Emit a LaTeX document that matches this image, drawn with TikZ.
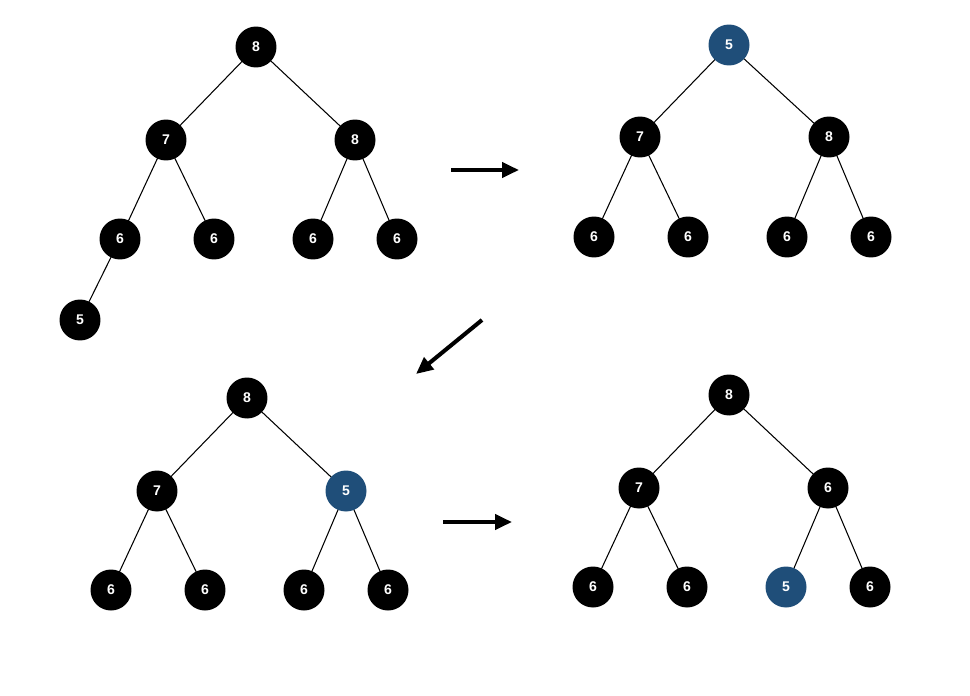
\documentclass[tikz,border=0pt]{standalone}
\usepackage{fontspec}
\setmainfont{Liberation Sans}
\usetikzlibrary{arrows.meta,backgrounds}
\definecolor{moved}{HTML}{1F4E79}
\tikzset{
  heapnode/.style={circle,fill=black,text=white,minimum size=0.82cm,inner sep=0pt,
    font=\fontsize{8}{9}\selectfont\bfseries},
  movednode/.style={heapnode,fill=moved},
  edge/.style={line width=0.6pt},
  stage/.style={line width=2.3pt,-{Triangle[length=0.34cm,width=0.3cm]}}
}
\begin{document}
\begin{tikzpicture}[x=0.02cm,y=-0.02cm]
  \useasboundingbox (0,0) rectangle (970,696);
  % Tree 1: 5 inserted at the bottom
  \node[heapnode] (a1) at (256,47) {8};
  \node[heapnode] (a2) at (166,140) {7};
  \node[heapnode] (a3) at (355,140) {8};
  \node[heapnode] (a4) at (120,239) {6};
  \node[heapnode] (a5) at (214,239) {6};
  \node[heapnode] (a6) at (313,239) {6};
  \node[heapnode] (a7) at (397,239) {6};
  \node[heapnode] (a8) at (80,320) {5};
  % Tree 2: last node moved to the root
  \node[movednode] (b1) at (729,45) {5};
  \node[heapnode] (b2) at (640,137) {7};
  \node[heapnode] (b3) at (829,137) {8};
  \node[heapnode] (b4) at (594,237) {6};
  \node[heapnode] (b5) at (688,237) {6};
  \node[heapnode] (b6) at (787,237) {6};
  \node[heapnode] (b7) at (871,237) {6};
  % Tree 3: first swap
  \node[heapnode] (c1) at (247,398) {8};
  \node[heapnode] (c2) at (157,491) {7};
  \node[movednode] (c3) at (346,491) {5};
  \node[heapnode] (c4) at (111,590) {6};
  \node[heapnode] (c5) at (205,590) {6};
  \node[heapnode] (c6) at (304,590) {6};
  \node[heapnode] (c7) at (388,590) {6};
  % Tree 4: second swap
  \node[heapnode] (d1) at (729,395) {8};
  \node[heapnode] (d2) at (639,488) {7};
  \node[heapnode] (d3) at (828,488) {6};
  \node[heapnode] (d4) at (593,587) {6};
  \node[heapnode] (d5) at (687,587) {6};
  \node[movednode] (d6) at (786,587) {5};
  \node[heapnode] (d7) at (870,587) {6};
  % Edges, centre to centre behind the nodes
  \begin{pgfonlayer}{background}
    \foreach \p/\c in {a1/a2, a1/a3, a2/a4, a2/a5, a3/a6, a3/a7, a4/a8,
                       b1/b2, b1/b3, b2/b4, b2/b5, b3/b6, b3/b7,
                       c1/c2, c1/c3, c2/c4, c2/c5, c3/c6, c3/c7,
                       d1/d2, d1/d3, d2/d4, d2/d5, d3/d6, d3/d7}
      \draw[edge] (\p.center) -- (\c.center);
  \end{pgfonlayer}
  % Arrows between the steps
  \coordinate (s1) at (451,170); \coordinate (e1) at (519,170);
  \coordinate (s2) at (482,320); \coordinate (e2) at (416,374);
  \coordinate (s3) at (443,522); \coordinate (e3) at (512,522);
  \draw[stage] (s1) -- (e1);
  \draw[stage] (s2) -- (e2);
  \draw[stage] (s3) -- (e3);
\end{tikzpicture}
\end{document}
